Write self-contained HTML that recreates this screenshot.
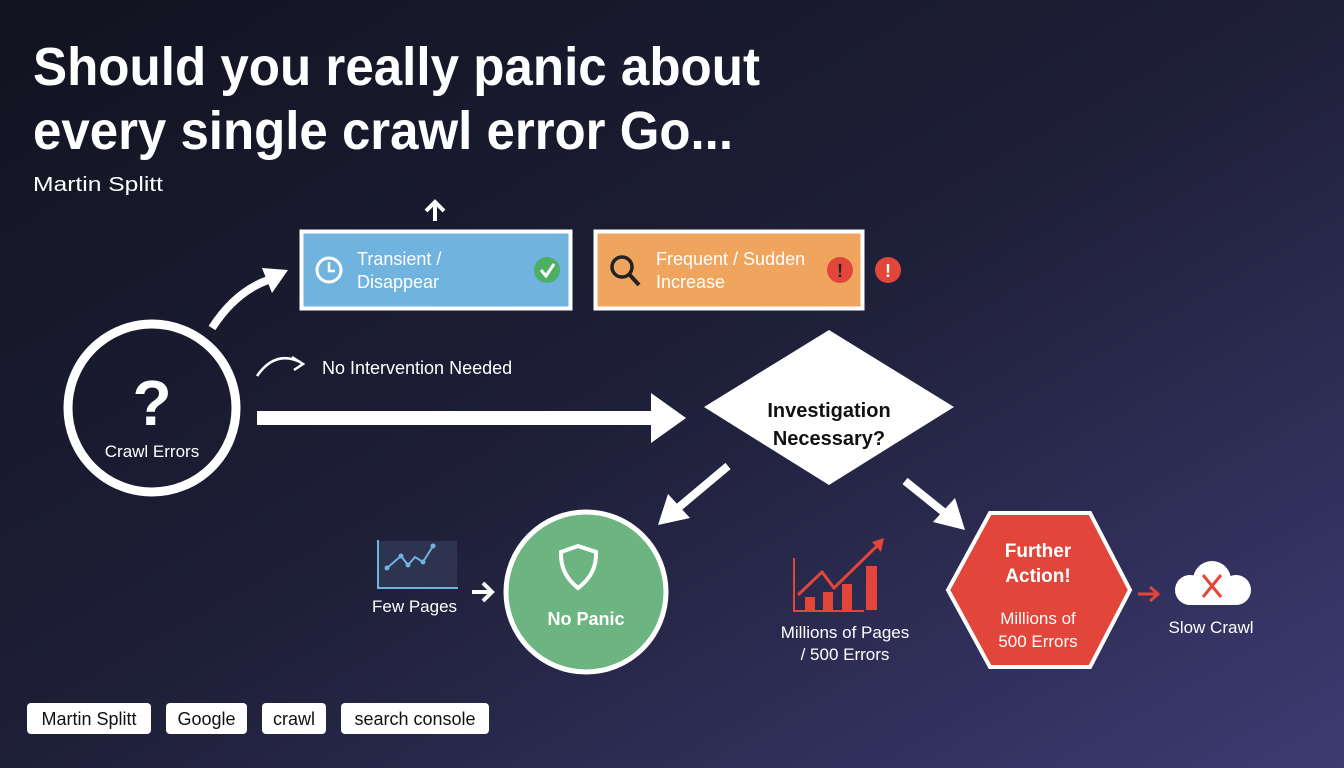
<!DOCTYPE html>
<html><head><meta charset="utf-8"><style>
html,body{margin:0;padding:0;width:1344px;height:768px;overflow:hidden}
svg{display:block}
text{font-family:"Liberation Sans",sans-serif}
</style></head><body>
<svg width="1344" height="768" viewBox="0 0 1344 768" xmlns="http://www.w3.org/2000/svg">
<defs>
<linearGradient id="bg" x1="0" y1="0" x2="1" y2="1">
<stop offset="0" stop-color="#121320"/>
<stop offset="0.5" stop-color="#1e1f38"/>
<stop offset="1" stop-color="#3d3b72"/>
</linearGradient>
</defs>
<rect width="1344" height="768" fill="url(#bg)"/>

<text x="33" y="85" font-size="54" font-weight="bold" fill="#fff" textLength="727" lengthAdjust="spacingAndGlyphs">Should you really panic about</text>
<text x="33" y="149" font-size="54" font-weight="bold" fill="#fff" textLength="700" lengthAdjust="spacingAndGlyphs">every single crawl error Go...</text>
<text x="33" y="191" font-size="20" fill="#fff" textLength="130" lengthAdjust="spacingAndGlyphs">Martin Splitt</text>

<!-- crawl errors circle -->
<circle cx="152" cy="408" r="84" fill="none" stroke="#fff" stroke-width="9"/>
<text x="152" y="425" font-size="64" font-weight="bold" fill="#fff" text-anchor="middle">?</text>
<text x="152" y="457" font-size="17" fill="#fff" text-anchor="middle">Crawl Errors</text>

<!-- curved arrow to blue -->
<path d="M212 328 Q235 292 268 280" fill="none" stroke="#fff" stroke-width="8"/>
<polygon points="262,268 288,270 272,293" fill="#fff"/>

<!-- up arrow -->
<line x1="435" y1="221" x2="435" y2="204" stroke="#fff" stroke-width="4"/>
<polyline points="426,211 435,202 444,211" fill="none" stroke="#fff" stroke-width="4"/>

<!-- blue box -->
<rect x="301.5" y="231.5" width="269" height="77" fill="#6fb3de" stroke="#fff" stroke-width="4"/>
<circle cx="329" cy="270" r="12" fill="none" stroke="#fff" stroke-width="3"/>
<polyline points="329,262 329,271 335,271" fill="none" stroke="#fff" stroke-width="2.5"/>
<text x="357" y="265" font-size="18" fill="#fff">Transient /</text>
<text x="357" y="288" font-size="18" fill="#fff">Disappear</text>
<circle cx="547" cy="270" r="13" fill="#4caf64"/>
<polyline points="541,270 546,276 554,264" fill="none" stroke="#fff" stroke-width="3"/>

<!-- orange box -->
<rect x="595.5" y="231.5" width="267" height="77" fill="#efa55e" stroke="#fff" stroke-width="4"/>
<circle cx="622" cy="267" r="10" fill="none" stroke="#222" stroke-width="3.5"/>
<line x1="629" y1="274" x2="639" y2="285" stroke="#222" stroke-width="4"/>
<text x="656" y="265" font-size="18" fill="#fff">Frequent / Sudden</text>
<text x="656" y="288" font-size="18" fill="#fff">Increase</text>
<circle cx="840" cy="270" r="13" fill="#e2453a"/>
<text x="840" y="277" font-size="18" font-weight="bold" fill="#222" text-anchor="middle">!</text>
<circle cx="888" cy="270" r="13" fill="#e2453a"/>
<text x="888" y="277" font-size="18" font-weight="bold" fill="#fff" text-anchor="middle">!</text>

<!-- no intervention -->
<path d="M257 376 Q275 350 300 362" fill="none" stroke="#fff" stroke-width="2.5"/>
<polyline points="292,357 303,364 294,370" fill="none" stroke="#fff" stroke-width="2.5"/>
<text x="322" y="374" font-size="18" fill="#fff">No Intervention Needed</text>

<!-- long arrow -->
<rect x="257" y="411" width="400" height="14" fill="#fff"/>
<polygon points="651,393 686,418 651,443" fill="#fff"/>

<!-- diamond -->
<polygon points="829,330 954,407 829,485 704,407" fill="#fff"/>
<text x="829" y="417" font-size="20" font-weight="bold" fill="#111" text-anchor="middle">Investigation</text>
<text x="829" y="445" font-size="20" font-weight="bold" fill="#111" text-anchor="middle">Necessary?</text>

<!-- diagonal arrows -->
<line x1="728" y1="466" x2="678" y2="508" stroke="#fff" stroke-width="8"/>
<polygon points="658,525 668,494 690,518" fill="#fff"/>
<line x1="905" y1="481" x2="946" y2="514" stroke="#fff" stroke-width="8"/>
<polygon points="965,530 933,522 955,498" fill="#fff"/>

<!-- few pages -->
<rect x="377" y="541" width="80" height="46" fill="#2e3350"/>
<polyline points="378,540 378,588 458,588" fill="none" stroke="#6fb3de" stroke-width="2"/>
<polyline points="387,568 401,556 408,565 415,557 423,562 433,546" fill="none" stroke="#6fb3de" stroke-width="2"/>
<g fill="#6fb3de"><circle cx="387" cy="568" r="2.5"/><circle cx="401" cy="556" r="2.5"/><circle cx="408" cy="565" r="2.5"/><circle cx="423" cy="562" r="2.5"/><circle cx="433" cy="546" r="2.5"/></g>
<text x="372" y="612" font-size="17" fill="#fff">Few Pages</text>
<line x1="472" y1="592" x2="490" y2="592" stroke="#fff" stroke-width="4"/>
<polyline points="483,583 492,592 483,601" fill="none" stroke="#fff" stroke-width="4"/>

<!-- no panic -->
<circle cx="586" cy="592" r="80" fill="#6db580" stroke="#fff" stroke-width="5"/>
<path d="M578 546 L596 552 Q597 574 578 588 Q560 574 561 552 Z" fill="none" stroke="#fff" stroke-width="4"/>
<text x="586" y="625" font-size="18" font-weight="bold" fill="#fff" text-anchor="middle">No Panic</text>

<!-- millions chart -->
<polyline points="794,558 794,611 864,611" fill="none" stroke="#e2453a" stroke-width="2"/>
<g fill="#e2453a"><rect x="805" y="597" width="10" height="13"/><rect x="823" y="592" width="10" height="18"/><rect x="842" y="584" width="10" height="26"/><rect x="866" y="566" width="11" height="44"/></g>
<polyline points="798,595 822,572 834,588 880,543" fill="none" stroke="#e2453a" stroke-width="3"/>
<polygon points="884,538 872,542 881,552" fill="#e2453a"/>
<text x="845" y="638" font-size="17" fill="#fff" text-anchor="middle">Millions of Pages</text>
<text x="845" y="660" font-size="17" fill="#fff" text-anchor="middle">/ 500 Errors</text>

<!-- hexagon -->
<polygon points="990,513 1090,513 1130,590 1090,667 990,667 948,590" fill="#e2453a" stroke="#fff" stroke-width="4"/>
<text x="1038" y="557" font-size="19" font-weight="bold" fill="#fff" text-anchor="middle">Further</text>
<text x="1038" y="582" font-size="19" font-weight="bold" fill="#fff" text-anchor="middle">Action!</text>
<text x="1038" y="624" font-size="17" fill="#fff" text-anchor="middle">Millions of</text>
<text x="1038" y="647" font-size="17" fill="#fff" text-anchor="middle">500 Errors</text>

<!-- slow crawl -->
<line x1="1138" y1="594" x2="1156" y2="594" stroke="#e2453a" stroke-width="3"/>
<polyline points="1150,587 1158,594 1150,601" fill="none" stroke="#e2453a" stroke-width="3"/>
<g fill="#fff"><circle cx="1190" cy="590" r="15"/><circle cx="1212" cy="580" r="19"/><circle cx="1236" cy="590" r="15"/><rect x="1185" y="588" width="55" height="17" rx="8"/></g>
<line x1="1203" y1="575" x2="1221" y2="597" stroke="#e2453a" stroke-width="3"/>
<line x1="1221" y1="575" x2="1203" y2="597" stroke="#e2453a" stroke-width="3"/>
<text x="1211" y="633" font-size="17" fill="#fff" text-anchor="middle">Slow Crawl</text>

<!-- tags -->
<g fill="#fff">
<rect x="27" y="703" width="124" height="31" rx="4"/>
<rect x="166" y="703" width="81" height="31" rx="4"/>
<rect x="262" y="703" width="64" height="31" rx="4"/>
<rect x="341" y="703" width="148" height="31" rx="4"/>
</g>
<g font-size="18" fill="#111" text-anchor="middle">
<text x="89" y="725">Martin Splitt</text>
<text x="206.5" y="725">Google</text>
<text x="294" y="725">crawl</text>
<text x="415" y="725">search console</text>
</g>
</svg>
</body></html>
